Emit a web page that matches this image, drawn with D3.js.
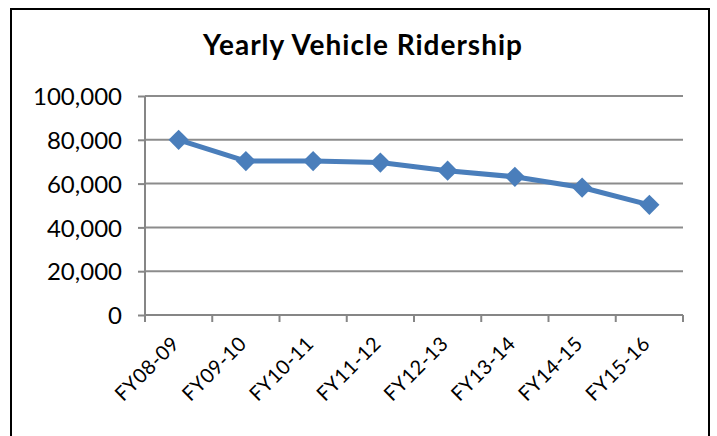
<!DOCTYPE html>
<html>
<head>
<meta charset="utf-8">
<script src="https://cdn.jsdelivr.net/npm/d3@7"></script>
<style>
	body { margin: 0; background: #fff; }
	text { font-family: Lato, "Open Sans", sans-serif; fill: #000; }
</style>
</head>
<body>
<div id="chart"></div>
<script>
var categories = ['FY08-09', 'FY09-10', 'FY10-11', 'FY11-12', 'FY12-13', 'FY13-14', 'FY14-15', 'FY15-16'];
var ridership = [80000, 70300, 70300, 69600, 65900, 63100, 58200, 50300];
var yTicks = [0, 20000, 40000, 60000, 80000, 100000];

var w = 717, h = 436;
var margin = { left: 145, right: 34, top: 96, bottom: 121 };

var svg = d3.select('#chart')
	.append('svg')
	.attr('width', w)
	.attr('height', h);

svg.append('rect')
	.attr('x', 11).attr('y', 9)
	.attr('width', 698).attr('height', 460)
	.attr('fill', '#fff')
	.attr('stroke', '#000')
	.attr('stroke-width', 2);

svg.append('text')
	.attr('x', 363).attr('y', 55)
	.attr('text-anchor', 'middle')
	.style('font-size', '28px')
	.style('font-weight', 'bold')
	.style('letter-spacing', '1px')
	.text('Yearly Vehicle Ridership');

var x = d3.scaleBand()
	.domain(categories)
	.range([margin.left, w - margin.right]);

var y = d3.scaleLinear()
	.domain([0, 100000])
	.range([h - margin.bottom, margin.top]);

// gridlines
svg.append('g')
	.selectAll('line')
	.data(yTicks.slice(1))
	.enter()
	.append('line')
	.attr('x1', margin.left)
	.attr('x2', w - margin.right)
	.attr('y1', function(d) { return y(d); })
	.attr('y2', function(d) { return y(d); })
	.attr('stroke', '#8c8c8c')
	.attr('stroke-width', 2);

// y axis
var yAxis = svg.append('g')
	.attr('transform', 'translate(' + margin.left + ',0)')
	.call(d3.axisLeft(y).tickValues(yTicks).tickSize(7).tickPadding(16).tickFormat(d3.format(',')));
yAxis.select('.domain').attr('stroke', '#868686').attr('stroke-width', 2)
	.attr('d', 'M0,' + y(100000) + 'V' + (y(0) + 7));
yAxis.selectAll('.tick line').attr('stroke', '#868686').attr('stroke-width', 2);
yAxis.selectAll('.tick text').style('font-size', '24px').attr('dy', '0.36em');

// x axis with ticks at category boundaries
var xAxis = svg.append('g')
	.attr('transform', 'translate(0,' + y(0) + ')');
xAxis.append('line')
	.attr('x1', margin.left).attr('x2', w - margin.right)
	.attr('stroke', '#868686').attr('stroke-width', 2);
var bounds = categories.map(function(c) { return x(c); }).concat([x.range()[1]]);
xAxis.selectAll('.xtick')
	.data(bounds)
	.enter()
	.append('line')
	.attr('x1', function(d) { return d; })
	.attr('x2', function(d) { return d; })
	.attr('y1', 0).attr('y2', 7)
	.attr('stroke', '#868686').attr('stroke-width', 2);
xAxis.selectAll('.xlabel')
	.data(categories)
	.enter()
	.append('text')
	.attr('text-anchor', 'end')
	.style('font-size', '20px')
	.style('letter-spacing', '0.5px')
	.attr('transform', function(d) {
		return 'translate(' + (x(d) + x.bandwidth() / 2 + 2) + ',30) rotate(-45)';
	})
	.text(function(d) { return d; });

// line
var line = d3.line()
	.x(function(d, i) { return x(categories[i]) + x.bandwidth() / 2; })
	.y(function(d) { return y(d); });

svg.append('path')
	.datum(ridership)
	.attr('d', line)
	.attr('fill', 'none')
	.attr('stroke', '#4a7ebb')
	.attr('stroke-width', 5)
	.attr('stroke-linejoin', 'round');

svg.selectAll('.marker')
	.data(ridership)
	.enter()
	.append('path')
	.attr('d', d3.symbol().type(d3.symbolDiamond2).size(260))
	.attr('transform', function(d, i) {
		return 'translate(' + (x(categories[i]) + x.bandwidth() / 2) + ',' + y(d) + ')';
	})
	.attr('fill', '#4a7ebb');
</script>
</body>
</html>
